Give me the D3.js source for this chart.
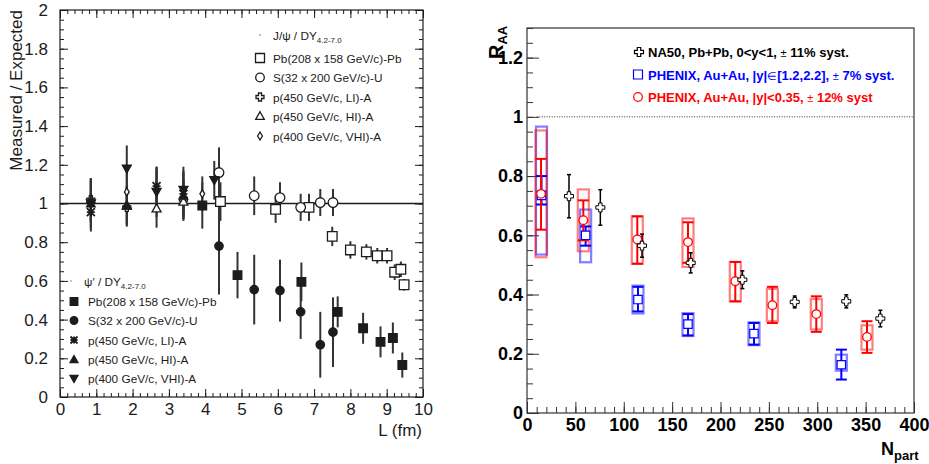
<!DOCTYPE html>
<html>
<head>
<meta charset="utf-8">
<title>J/psi suppression</title>
<script src="https://d3js.org/d3.v7.min.js"></script>
<style>
body{margin:0;background:#fff;}
svg{display:block;font-family:"Liberation Sans",Arial,Helvetica,sans-serif;}
</style>
</head>
<body>
<script>
var w=929,h=464;

// ---------- left panel data: [L (fm), measured/expected, error] ----------
var lTicks=[0,1,2,3,4,5,6,7,8,9,10];
var ratioTicks=[0,0.2,0.4,0.6,0.8,1,1.2,1.4,1.6,1.8,2];

// J/psi / DY (open symbols)
var jpsiPbPb=[[4.42,1.01,0.10],[5.94,0.97,0.07],[6.86,0.98,0.07],[7.50,0.83,0.05],[8.00,0.76,0.045],[8.44,0.75,0.04],[8.74,0.73,0.04],[9.01,0.73,0.04],[9.22,0.645,0.04],[9.39,0.66,0.04],[9.48,0.58,0.03]];
var jpsiSU=[[4.38,1.16,0.13],[5.35,1.04,0.10],[6.06,1.03,0.08],[6.63,0.98,0.07],[7.17,1.005,0.07],[7.52,1.005,0.07]];
var jpsiPaLI=[[0.85,1.02,0.11],[1.84,0.98,0.10],[3.40,1.02,0.10]];
var jpsiPaHI=[[0.85,1.02,0.11],[1.84,0.99,0.10],[2.66,0.975,0.10],[3.40,1.01,0.10]];
var jpsiPaVHI=[[0.85,1.01,0.11],[1.84,1.06,0.10],[2.66,1.07,0.11],[3.92,1.05,0.09]];
// psi' / DY (full symbols)
var psipPbPb=[[3.92,0.99,0.12],[4.89,0.63,0.12],[6.65,0.595,0.10],[7.65,0.44,0.08],[8.35,0.355,0.08],[8.83,0.285,0.08],[9.17,0.305,0.08],[9.43,0.165,0.065]];
var psipSU=[[4.38,0.78,0.25],[5.35,0.555,0.18],[6.06,0.55,0.16],[6.63,0.44,0.14],[7.17,0.27,0.17],[7.52,0.335,0.18]];
var psipPaLI=[[0.85,0.955,0.10],[2.66,1.09,0.10],[3.40,1.05,0.12]];
var psipPaHI=[[0.85,1.0,0.12],[1.84,0.99,0.10],[3.40,1.04,0.12]];
var psipPaVHI=[[0.85,1.0,0.13],[1.84,1.18,0.12],[2.66,1.06,0.13],[3.40,1.07,0.12],[4.25,1.12,0.10]];

// ---------- right panel data ----------
var npartTicks=[0,50,100,150,200,250,300,350,400];
var raaTicks=[0,0.2,0.4,0.6,0.8,1,1.2];

// NA50 Pb+Pb
var na50Npart=[43.4,75.8,118.9,169.2,222.6,276.7,330,365.2];
var na50Raa=[0.732,0.694,0.565,0.507,0.45,0.375,0.377,0.319];
var na50Err=[0.073,0.06,0.039,0.034,0.03,0.02,0.022,0.028];

// PHENIX forward rapidity (blue)
var fwdNpart=[15,60.6,114.7,166.4,234.6,324.9];
var fwdRaa=[0.735,0.60,0.383,0.30,0.268,0.163];
var fwdStatLo=[0.704,0.565,0.343,0.262,0.231,0.113];
var fwdStatHi=[0.80,0.63,0.426,0.334,0.304,0.214];
var fwdSysLo=[0.535,0.509,0.336,0.26,0.229,0.143];
var fwdSysHi=[0.967,0.687,0.43,0.337,0.306,0.197];

// PHENIX mid rapidity (red)
var midNpart=[14.5,58.2,114,166.4,215.3,253.6,299,351.4];
var midRaa=[0.74,0.651,0.586,0.577,0.445,0.364,0.334,0.257];
var midStatLo=[0.619,0.583,0.504,0.507,0.377,0.304,0.274,0.203];
var midStatHi=[0.858,0.718,0.664,0.644,0.51,0.426,0.394,0.31];
var midSysLo=[0.526,0.546,0.504,0.493,0.377,0.31,0.282,0.214];
var midSysHi=[0.954,0.755,0.664,0.657,0.51,0.419,0.385,0.296];

var svg=d3.select("body").append("svg").attr("width",w).attr("height",h);

// marker shapes
function symPath(type,s){
    switch(type){
    case "square": return "M"+(-s)+","+(-s)+"h"+(2*s)+"v"+(2*s)+"h"+(-2*s)+"Z";
    case "circle": return "M"+s+",0A"+s+","+s+" 0 1,1 "+(-s)+",0A"+s+","+s+" 0 1,1 "+s+",0Z";
    case "triUp": return "M0,"+(-s)+"L"+s+","+(s*0.8)+"L"+(-s)+","+(s*0.8)+"Z";
    case "triDown": return "M0,"+s+"L"+s+","+(-s*0.8)+"L"+(-s)+","+(-s*0.8)+"Z";
    case "diamond": return "M0,"+(-s)+"L"+(s*0.6)+",0L0,"+s+"L"+(-s*0.6)+",0Z";
    case "cross":
        var a=s*0.38;
        return "M"+(-a)+","+(-s)+"H"+a+"V"+(-a)+"H"+s+"V"+a+"H"+a+"V"+s+"H"+(-a)+"V"+a+"H"+(-s)+"V"+(-a)+"H"+(-a)+"Z";
    case "star": return "M"+(-s)+","+(-s)+"L"+s+","+s+"M"+(-s)+","+s+"L"+s+","+(-s)+"M0,"+(-s)+"V"+s+"M"+(-s)+",0H"+s;
    }
}
function marker(g,type,x,y,s,filled,color,sw){
    g.append("path")
        .attr("transform","translate("+x+","+y+")")
        .attr("d",symPath(type,s))
        .attr("fill",type=="star"?"none":(filled?color:"#fff"))
        .attr("stroke",color)
        .attr("stroke-width",sw||1.3);
}

// ================= LEFT PANEL =================
var xL=d3.scaleLinear().domain([0,10]).range([60,423]);
var yL=d3.scaleLinear().domain([0,2]).range([397,10]);
var ink="#1c1c1c";
var left=svg.append("g");

function ticks(g,axis,vals,size,fmt,pad){
    g.call(axis.tickValues(vals).tickSize(size).tickSizeOuter(0).tickPadding(pad||6).tickFormat(fmt||""));
    g.select(".domain").remove();
    g.selectAll("line").attr("stroke",ink);
}
var lMinorX=d3.range(0,50.5,1).map(function(d){return d/5;});
var lMinorY=d3.range(0,40.5,1).map(function(d){return d/20;});
var fmtNum=function(d){return String(d);};

ticks(left.append("g").attr("transform","translate(0,397)"),d3.axisBottom(xL),lMinorX,-4);
ticks(left.append("g").attr("transform","translate(0,397)"),d3.axisBottom(xL),lTicks,-8,fmtNum,6);
ticks(left.append("g").attr("transform","translate(0,10)"),d3.axisTop(xL),lMinorX,-4);
ticks(left.append("g").attr("transform","translate(0,10)"),d3.axisTop(xL),lTicks,-8);
ticks(left.append("g").attr("transform","translate(60,0)"),d3.axisLeft(yL),lMinorY,-4);
ticks(left.append("g").attr("transform","translate(60,0)"),d3.axisLeft(yL),ratioTicks,-8,fmtNum,12);
ticks(left.append("g").attr("transform","translate(423,0)"),d3.axisRight(yL),lMinorY,-4);
ticks(left.append("g").attr("transform","translate(423,0)"),d3.axisRight(yL),ratioTicks,-8);
left.selectAll("text").attr("font-size",17).attr("fill",ink).attr("font-family","Liberation Sans, Arial, sans-serif");

left.append("rect").attr("x",60).attr("y",10).attr("width",363).attr("height",387)
    .attr("fill","none").attr("stroke",ink).attr("stroke-width",1.2);

// reference line at 1
left.append("line").attr("x1",xL(0)).attr("x2",xL(10)).attr("y1",yL(1)).attr("y2",yL(1))
    .attr("stroke",ink).attr("stroke-width",1.5);

var leftSeries=[
    {data:psipSU,type:"circle",s:4.2,filled:true},
    {data:psipPbPb,type:"square",s:4.3,filled:true},
    {data:jpsiPbPb,type:"square",s:4.8,filled:false},
    {data:jpsiSU,type:"circle",s:4.8,filled:false},
    {data:jpsiPaLI,type:"cross",s:4,filled:false},
    {data:jpsiPaHI,type:"triUp",s:4.5,filled:false},
    {data:jpsiPaVHI,type:"diamond",s:4,filled:false},
    {data:psipPaLI,type:"star",s:4,filled:true},
    {data:psipPaHI,type:"triUp",s:4.3,filled:true},
    {data:psipPaVHI,type:"triDown",s:4.5,filled:true}
];
// error bars first
leftSeries.forEach(function(s){
    left.selectAll(null).data(s.data).enter().append("line")
        .attr("x1",function(d){return xL(d[0]);}).attr("x2",function(d){return xL(d[0]);})
        .attr("y1",function(d){return yL(d[1]-d[2]);}).attr("y2",function(d){return yL(d[1]+d[2]);})
        .attr("stroke","#333").attr("stroke-width",2);
});
leftSeries.forEach(function(s){
    s.data.forEach(function(d){
        marker(left,s.type,xL(d[0]),yL(d[1]),s.s,s.filled,ink,s.type=="star"?1.8:1.3);
    });
});

// legends
function legText(g,x,y,txt,sub){
    var t=g.append("text").attr("x",x).attr("y",y).attr("font-size",11.8).attr("fill",ink).text(txt);
    if(sub){
        t.append("tspan").attr("font-size",8).attr("dy",3).text(sub);
    }
}
left.append("circle").attr("cx",260).attr("cy",35).attr("r",0.8).attr("fill","#777");
legText(left,273,40,"J/\u03c8 / DY","4.2-7.0");
var topLeg=[["square",4.5,false,"Pb(208 x 158 GeV/c)-Pb"],["circle",4.3,false,"S(32 x 200 GeV/c)-U"],
    ["cross",4,false,"p(450 GeV/c, LI)-A"],["triUp",4.3,false,"p(450 GeV/c, HI)-A"],["diamond",4,false,"p(400 GeV/c, VHI)-A"]];
var topY=[58,77.5,97,116,136];
topLeg.forEach(function(d,i){
    marker(left,d[0],260,topY[i],d[1],d[2],ink);
    legText(left,273,topY[i]+4.5,d[3]);
});
left.append("circle").attr("cx",71).attr("cy",281).attr("r",0.8).attr("fill","#777");
legText(left,84,286,"\u03c8\u2032 / DY","4.2-7.0");
var botLeg=[["square",3.8,true,"Pb(208 x 158 GeV/c)-Pb"],["circle",3.8,true,"S(32 x 200 GeV/c)-U"],
    ["star",3.5,true,"p(450 GeV/c, LI)-A"],["triUp",4,true,"p(450 GeV/c, HI)-A"],["triDown",4,true,"p(400 GeV/c, VHI)-A"]];
var botY=[301.5,320.5,340,359.5,378.5];
botLeg.forEach(function(d,i){
    marker(left,d[0],74,botY[i],d[1],d[2],ink,d[0]=="star"?1.8:1.3);
    legText(left,88,botY[i]+4.5,d[3]);
});

// axis titles
left.append("text").attr("transform","translate(22,10) rotate(-90)").attr("text-anchor","end")
    .attr("font-size",17).attr("fill",ink).text("Measured / Expected");
left.append("text").attr("x",422).attr("y",436).attr("text-anchor","end")
    .attr("font-size",17).attr("fill",ink).text("L (fm)");

// ================= RIGHT PANEL =================
var xR=d3.scaleLinear().domain([0,400]).range([527,914]);
var yR=d3.scaleLinear().domain([0,1.3]).range([413,28]);
var right=svg.append("g");
var rInk="#333";

function rticks(g,axis,vals,size,fmt,pad){
    g.call(axis.tickValues(vals).tickSize(size).tickSizeOuter(0).tickPadding(pad||6).tickFormat(fmt||""));
    g.select(".domain").remove();
    g.selectAll("line").attr("stroke",rInk);
}
rticks(right.append("g").attr("transform","translate(0,413)"),d3.axisBottom(xR),d3.range(0,401,10),-6);
rticks(right.append("g").attr("transform","translate(0,413)"),d3.axisBottom(xR),npartTicks,-11,fmtNum,5);
rticks(right.append("g").attr("transform","translate(527,0)"),d3.axisLeft(yR),d3.range(0,27,1).map(function(d){return d/20;}),-6);
rticks(right.append("g").attr("transform","translate(527,0)"),d3.axisLeft(yR),raaTicks,-12,fmtNum,4);
right.selectAll("text").attr("font-size",18).attr("font-weight","bold").attr("fill","#000")
    .attr("font-family","Liberation Sans, Arial, sans-serif");

right.append("rect").attr("x",527).attr("y",28).attr("width",387).attr("height",385)
    .attr("fill","none").attr("stroke",rInk).attr("stroke-width",1.2);

// dotted line at R_AA = 1
right.append("line").attr("x1",xR(10)).attr("x2",xR(400)).attr("y1",yR(1)).attr("y2",yR(1))
    .attr("stroke","#333").attr("stroke-width",1).attr("stroke-dasharray","1,1.5");

// systematic boxes
function sysBoxes(np,lo,hi,color){
    right.selectAll(null).data(np).enter().append("rect")
        .attr("x",function(d){return xR(d-5.7);})
        .attr("width",function(d){return xR(d+5.7)-xR(d-5.7);})
        .attr("y",function(d,i){return yR(hi[i]);})
        .attr("height",function(d,i){return yR(lo[i])-yR(hi[i]);})
        .attr("fill","none").attr("stroke",color).attr("stroke-opacity",0.5).attr("stroke-width",2.2);
}
function statBars(np,lo,hi,color,cap,sw){
    var g=right.append("g").attr("stroke",color).attr("stroke-width",sw);
    np.forEach(function(d,i){
        var x=xR(d);
        g.append("line").attr("x1",x).attr("x2",x).attr("y1",yR(lo[i])).attr("y2",yR(hi[i]));
        g.append("line").attr("x1",x-cap).attr("x2",x+cap).attr("y1",yR(lo[i])).attr("y2",yR(lo[i]));
        g.append("line").attr("x1",x-cap).attr("x2",x+cap).attr("y1",yR(hi[i])).attr("y2",yR(hi[i]));
    });
}
sysBoxes(fwdNpart,fwdSysLo,fwdSysHi,"#0000ff");
sysBoxes(midNpart,midSysLo,midSysHi,"#ff0000");
statBars(fwdNpart,fwdStatLo,fwdStatHi,"#0000ff",5.5,2);
statBars(midNpart,midStatLo,midStatHi,"#ff0000",5.5,2);
statBars(na50Npart,na50Raa.map(function(d,i){return d-na50Err[i];}),na50Raa.map(function(d,i){return d+na50Err[i];}),"#000",2,1.5);

fwdNpart.forEach(function(d,i){marker(right,"square",xR(d),yR(fwdRaa[i]),4.2,false,"#0000ff",1.2);});
midNpart.forEach(function(d,i){marker(right,"circle",xR(d),yR(midRaa[i]),4.3,false,"#ff0000",1.3);});
na50Npart.forEach(function(d,i){marker(right,"cross",xR(d),yR(na50Raa[i]),4.5,false,"#000",1);});

// legend
var rLeg=[["cross","#000",4.5,"NA50, Pb+Pb, 0<y<1, ","\u00b1"," 11% syst."],
    ["square","#0000ff",4.5,"PHENIX, Au+Au, |y|","\u2208","[1.2,2.2], ","\u00b1"," 7% syst."],
    ["circle","#ff0000",4.3,"PHENIX, Au+Au, |y|<0.35, ","\u00b1"," 12% syst"]];
var rLegY=[52,74.5,97];
rLeg.forEach(function(d,i){
    marker(right,d[0],d[1]=="#000"?639:638,rLegY[i],d[2],false,d[1],1.2);
    var t=right.append("text").attr("x",648).attr("y",rLegY[i]+5).attr("font-size",13)
        .attr("font-weight","bold").attr("fill",d[1]);
    d.slice(3).forEach(function(p){
        var thin=(p=="\u00b1"||p=="\u2208");
        t.append("tspan").attr("font-weight",thin?"normal":"bold").attr("font-size",thin?11:13).text(p);
    });
});

// axis titles
var raa=right.append("text").attr("transform","translate(503,59) rotate(-90)")
    .attr("font-size",20).attr("font-weight","bold").text("R");
raa.append("tspan").attr("font-size",13).attr("dy",4).text("AA");
var np=right.append("text").attr("x",881).attr("y",455).attr("font-size",18).attr("font-weight","bold").text("N");
np.append("tspan").attr("font-size",13).attr("dy",5).text("part");
</script>
</body>
</html>
